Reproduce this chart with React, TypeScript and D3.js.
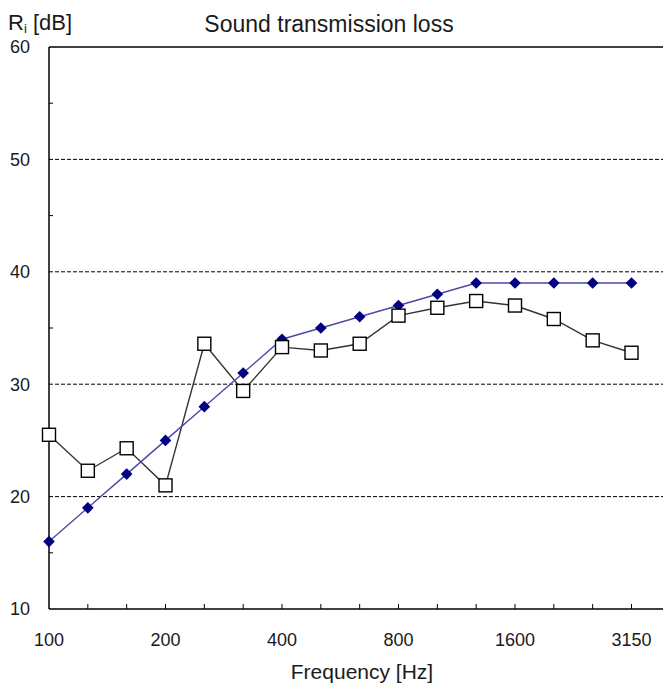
import React, { useEffect, useRef } from 'react';
import * as d3 from 'd3';

const bands = ['100', '125', '160', '200', '250', '315', '400', '500', '630', '800', '1000', '1250', '1600', '2000', '2500', '3150'];
const shownLabels = ['100', '200', '400', '800', '1600', '3150'];
const reference = [16, 19, 22, 25, 28, 31, 34, 35, 36, 37, 38, 39, 39, 39, 39, 39];
const measured = [25.5, 22.3, 24.3, 21.0, 33.6, 29.4, 33.3, 33.0, 33.6, 36.1, 36.8, 37.4, 37.0, 35.8, 33.9, 32.8];
const yMajor = [10, 20, 30, 40, 50, 60];
const yMinor = [15, 25, 35, 45, 55];
const gridValues = [20, 30, 40, 50];

const App = () => {
  const ref = useRef<SVGSVGElement>(null);

  useEffect(() => {
    const width = 663, height = 683;
    const left = 49, top = 47, bottom = 609;
    const svg = d3.select(ref.current);
    svg.selectAll('*').remove();
    svg.attr('width', width).attr('height', height);

    const x = d3.scaleLinear().domain([0, bands.length - 1]).range([left, 631.5]);
    const y = d3.scaleLinear().domain([10, 60]).range([bottom, top]);
    const right = x(16.2);
    const font = '"Liberation Sans", Arial, sans-serif';
    const ink = '#1a1a1a';

    // dashed gridlines
    svg.selectAll('line.grid')
      .data(gridValues)
      .enter()
      .append('line')
      .attr('x1', left).attr('x2', right)
      .attr('y1', d => y(d)).attr('y2', d => y(d))
      .attr('stroke', '#000')
      .attr('stroke-width', 1)
      .attr('stroke-dasharray', '4,2');

    // frame
    svg.append('line').attr('x1', left).attr('x2', right).attr('y1', top).attr('y2', top)
      .attr('stroke', '#000').attr('stroke-width', 1.5);
    svg.append('line').attr('x1', left).attr('x2', right).attr('y1', bottom).attr('y2', bottom)
      .attr('stroke', '#000').attr('stroke-width', 1.5);
    svg.append('line').attr('x1', left).attr('x2', left).attr('y1', top).attr('y2', bottom)
      .attr('stroke', '#000').attr('stroke-width', 1.5);

    // y minor ticks (inside)
    svg.selectAll('line.ymin')
      .data(yMinor)
      .enter()
      .append('line')
      .attr('x1', left).attr('x2', left + 4)
      .attr('y1', d => y(d)).attr('y2', d => y(d))
      .attr('stroke', '#000').attr('stroke-width', 1);

    // y labels
    svg.selectAll('text.ylab')
      .data(yMajor)
      .enter()
      .append('text')
      .attr('x', 30)
      .attr('y', d => y(d))
      .attr('dy', '0.35em')
      .attr('text-anchor', 'end')
      .style('font-family', font)
      .style('font-size', '18px')
      .style('fill', ink)
      .text(d => d);

    // x ticks (inside)
    svg.selectAll('line.xtick')
      .data(bands.slice(1))
      .enter()
      .append('line')
      .attr('x1', (d, i) => x(i + 1)).attr('x2', (d, i) => x(i + 1))
      .attr('y1', bottom).attr('y2', bottom - 5)
      .attr('stroke', '#000').attr('stroke-width', 1);

    // x labels
    svg.selectAll('text.xlab')
      .data(shownLabels)
      .enter()
      .append('text')
      .attr('x', d => x(bands.indexOf(d)))
      .attr('y', 640)
      .attr('dy', '0.35em')
      .attr('text-anchor', 'middle')
      .style('font-family', font)
      .style('font-size', '18px')
      .style('fill', ink)
      .text(d => d);

    // measured series
    const line = d3.line<number>().x((d, i) => x(i)).y(d => y(d));
    svg.append('path')
      .datum(measured)
      .attr('d', line)
      .attr('fill', 'none')
      .attr('stroke', '#333')
      .attr('stroke-width', 1.4);

    // reference curve
    svg.append('path')
      .datum(reference)
      .attr('d', line)
      .attr('fill', 'none')
      .attr('stroke', '#4a4aa8')
      .attr('stroke-width', 1.4);

    const diamond = d3.symbol().type(d3.symbolSquare).size(68)();
    svg.selectAll('path.ref')
      .data(reference)
      .enter()
      .append('path')
      .attr('d', diamond)
      .attr('transform', (d, i) => `translate(${x(i)},${y(d)}) rotate(45)`)
      .attr('fill', '#000080');

    svg.selectAll('rect.meas')
      .data(measured)
      .enter()
      .append('rect')
      .attr('x', (d, i) => x(i) - 6.5)
      .attr('y', d => y(d) - 6.5)
      .attr('width', 13)
      .attr('height', 13)
      .attr('fill', '#fff')
      .attr('stroke', '#000')
      .attr('stroke-width', 1.4);

    // titles
    const yTitle = svg.append('text')
      .attr('x', 8).attr('y', 30)
      .style('font-family', font)
      .style('font-size', '22px')
      .style('fill', ink);
    yTitle.append('tspan').text('R');
    yTitle.append('tspan').attr('dy', 3).style('font-size', '13px').text('i');
    yTitle.append('tspan').attr('dy', -3).text(' [dB]');

    svg.append('text')
      .attr('x', 329).attr('y', 32)
      .attr('text-anchor', 'middle')
      .style('font-family', font)
      .style('font-size', '23px')
      .style('fill', ink)
      .text('Sound transmission loss');

    svg.append('text')
      .attr('x', 362).attr('y', 679)
      .attr('text-anchor', 'middle')
      .style('font-family', font)
      .style('font-size', '21px')
      .style('fill', ink)
      .text('Frequency [Hz]');
  }, []);

  return <svg ref={ref} style={{ position: 'absolute', left: 0, top: 0 }}></svg>;
};

export default App;
